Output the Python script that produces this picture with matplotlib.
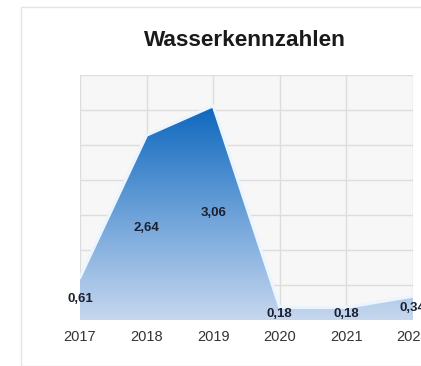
import numpy as np
import matplotlib
matplotlib.use("Agg")
from matplotlib import pyplot as plt
from matplotlib.colors import LinearSegmentedColormap
from matplotlib.patches import Rectangle

plt.rcParams["font.family"] = ["Liberation Sans", "DejaVu Sans"]

# data
years = [2017, 2018, 2019, 2020, 2021, 2022]
values = [0.61, 2.64, 3.06, 0.18, 0.18, 0.34]
labels = ["0,61", "2,64", "3,06", "0,18", "0,18", "0,34"]
title = "Wasserkennzahlen"

W, H = 421, 366
fig = plt.figure(figsize=(W / 100, H / 100), dpi=100)
fig.patch.set_facecolor("white")

# light panel frame
frame = Rectangle((21 / W, 0.0), 1.2, 1 - 7 / H, transform=fig.transFigure,
                  facecolor="white", edgecolor="#e4e4e4", lw=1.0, zorder=-5)
fig.add_artist(frame)

ax = fig.add_axes([80 / W, 1 - 320 / H, (413 - 80) / W, (320 - 75) / H])
ax.set_zorder(1)
ax.set_facecolor("#f7f7f7")
ax.set_xlim(years[0], years[-1])
ax.set_ylim(0, 3.5)
ax.set_xticks(years)
ax.set_yticks(np.arange(0, 3.51, 0.5))
ax.set_yticklabels([])
ax.grid(True, color="#dddddd", lw=1.0)
ax.set_axisbelow(True)
for s in ax.spines.values():
    s.set_visible(False)
ax.tick_params(axis="both", length=0)
ax.tick_params(axis="x", pad=7, labelsize=10.5, colors="#333333")

# gradient area
poly = ax.fill_between(years, values, 0, facecolor="none", edgecolor="none")
cmap = LinearSegmentedColormap.from_list("g", ["#c6d7ee", "#6aa0d8", "#0b66bd"])
grad = np.linspace(0, 1, 256).reshape(-1, 1)
img = ax.imshow(grad, cmap=cmap, origin="lower", aspect="auto",
                extent=[years[0], years[-1], 0, 3.1], zorder=2)
img.set_clip_path(poly.get_paths()[0], transform=ax.transData)
ax.plot(years, values, color="#eaf5ff", lw=2.2, zorder=3, solid_joinstyle="round")
ax.set_xlim(years[0], years[-1])
ax.set_ylim(0, 3.5)

for x, v, t in zip(years, values, labels):
    ax.text(x, v / 2, t, ha="center", va="center", fontsize=9.5, fontweight="bold",
            color="#1c2030", zorder=4, clip_on=False)

fig.text(245 / W, 1 - 41 / H, title, ha="center", va="center",
         fontsize=16.2, fontweight="bold", color="#1a1a1a")

fig.savefig("out.png", dpi=100)
